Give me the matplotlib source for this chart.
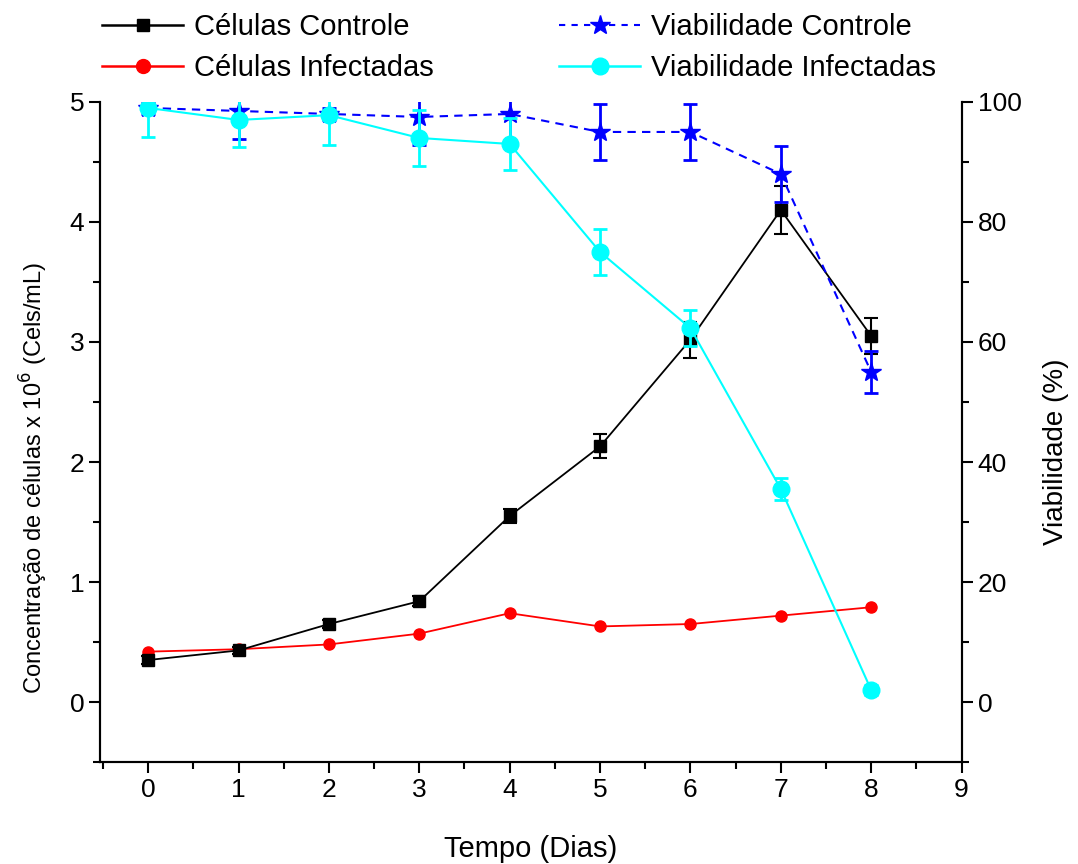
import numpy as np
import matplotlib
matplotlib.use("Agg")
import matplotlib.pyplot as plt
from matplotlib.ticker import MultipleLocator
from matplotlib.lines import Line2D

plt.rcParams['font.family'] = ['Liberation Sans', 'DejaVu Sans']

dias = [0, 1, 2, 3, 4, 5, 6, 7, 8]

# concentracao (x 10^6 cels/mL)
cel_controle = [0.35, 0.43, 0.65, 0.84, 1.55, 2.13, 3.02, 4.10, 3.05]
cel_controle_err = [0.03, 0.03, 0.03, 0.04, 0.06, 0.10, 0.15, 0.20, 0.15]
cel_infectadas = [0.42, 0.44, 0.48, 0.57, 0.74, 0.63, 0.65, 0.72, 0.79]

# viabilidade (%)
via_controle = [99.0, 98.5, 98.0, 97.5, 98.0, 95.0, 95.0, 88.0, 55.0]
via_controle_err = [1.0, 4.7, 1.0, 4.6, 4.6, 4.7, 4.7, 4.7, 3.5]
via_infectadas = [99.0, 97.0, 97.8, 94.0, 93.0, 75.0, 62.3, 35.5, 2.0]
via_infectadas_err = [4.8, 4.5, 5.0, 4.7, 4.4, 3.8, 3.0, 1.8, 0.8]

fig = plt.figure(figsize=(10.78, 8.64), dpi=100)
ax1 = fig.add_axes([0.093, 0.118, 0.799, 0.764])
ax2 = ax1.twinx()

ax1.errorbar(dias, cel_infectadas, color='red', marker='o', ms=8, lw=1.3, zorder=3)
ax1.errorbar(dias, cel_controle, yerr=cel_controle_err, color='black', marker='s',
             ms=8, lw=1.3, capsize=5, elinewidth=1.5, capthick=1.5, zorder=4)

ax2.errorbar(dias, via_controle, yerr=via_controle_err, color='blue', marker='*',
             ms=15, lw=1.5, ls=(0, (4, 3)), capsize=5, elinewidth=2, capthick=2, zorder=3)
ax2.errorbar(dias, via_infectadas, yerr=via_infectadas_err, color='cyan', marker='o',
             ms=12, lw=1.5, capsize=5, elinewidth=2, capthick=2, zorder=4)

ax1.set_xlim(-0.53, 9)
ax1.set_ylim(-0.5, 5)
ax2.set_ylim(-10, 100)

ax1.xaxis.set_major_locator(MultipleLocator(1))
ax1.xaxis.set_minor_locator(MultipleLocator(0.5))
ax1.yaxis.set_major_locator(MultipleLocator(1))
ax1.yaxis.set_minor_locator(MultipleLocator(0.5))
ax2.yaxis.set_major_locator(MultipleLocator(20))
ax2.yaxis.set_minor_locator(MultipleLocator(10))

for ax in (ax1, ax2):
    ax.spines['top'].set_visible(False)
    for s in ax.spines.values():
        s.set_linewidth(1.5)
    ax.tick_params(which='major', direction='out', length=8, width=1.5, labelsize=19)
    ax.tick_params(which='minor', direction='out', length=5, width=1.5)

ax1.set_xlabel('Tempo (Dias)', fontsize=21, labelpad=24)
ax1.set_ylabel('Concentração de células x 10$^6$ (Cels/mL)', fontsize=17)
ax1.yaxis.set_label_coords(-0.058, 0.43)
ax2.set_ylabel('Viabilidade (%)', fontsize=20)
ax2.yaxis.set_label_coords(1.095, 0.47)

handles = [
    Line2D([], [], color='black', marker='s', ms=9, lw=1.8),
    Line2D([], [], color='red', marker='o', ms=10, lw=1.8),
    Line2D([], [], color='blue', marker='*', ms=15, lw=1.5, ls=(0, (3, 3))),
    Line2D([], [], color='cyan', marker='o', ms=12, lw=1.8),
]
labels = ['Células Controle', 'Células Infectadas',
          'Viabilidade Controle', 'Viabilidade Infectadas']
fig.legend(handles, labels, ncol=2, loc='upper left', bbox_to_anchor=(0.07, 1.015),
           frameon=False, fontsize=21, handlelength=2.8, columnspacing=4.3,
           labelspacing=0.45, handletextpad=0.35)

fig.savefig('out.png', dpi=100)
